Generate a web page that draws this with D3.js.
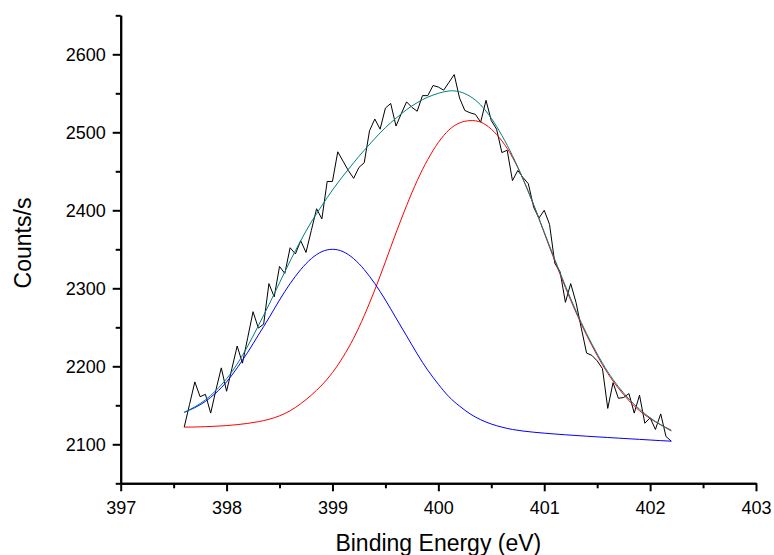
<!DOCTYPE html>
<html>
<head>
<meta charset="utf-8">
<script src="https://cdn.jsdelivr.net/npm/d3@7"></script>
<style>
  html, body { margin: 0; padding: 0; background: #fff; }
  svg { display: block; }
  text { font-family: "Liberation Sans", Arial, sans-serif; fill: #000; }
</style>
</head>
<body>
<svg id="chart" width="774" height="555"></svg>
<script>
// ---------- data ----------
const xTickLabels = [397, 398, 399, 400, 401, 402, 403];
const yTickLabels = [2100, 2200, 2300, 2400, 2500, 2600];
const xMinorTicks = [397.5, 398.5, 399.5, 400.5, 401.5, 402.5];
const yMinorTicks = [2050, 2150, 2250, 2350, 2450, 2550, 2650];

// raw spectrum (Binding energy, eV)
const rawEnergy = [
  397.60, 397.65, 397.70, 397.75, 397.80, 397.85, 397.90, 397.95, 398.00, 398.05,
  398.10, 398.15, 398.20, 398.25, 398.30, 398.35, 398.40, 398.45, 398.50, 398.55,
  398.60, 398.65, 398.70, 398.75, 398.80, 398.85, 398.90, 398.95, 399.00, 399.05,
  399.10, 399.15, 399.20, 399.25, 399.30, 399.35, 399.40, 399.45, 399.50, 399.55,
  399.60, 399.65, 399.70, 399.75, 399.80, 399.85, 399.90, 399.95, 400.00, 400.05,
  400.10, 400.15, 400.20, 400.25, 400.30, 400.35, 400.40, 400.45, 400.50, 400.55,
  400.60, 400.65, 400.70, 400.75, 400.80, 400.85, 400.90, 400.95, 401.00, 401.05,
  401.10, 401.15, 401.20, 401.25, 401.30, 401.35, 401.40, 401.45, 401.50, 401.55,
  401.60, 401.65, 401.70, 401.75, 401.80, 401.85, 401.90, 401.95, 402.00, 402.05,
  402.10, 402.15, 402.20
];
const rawCounts = [
  2122, 2151, 2180, 2161, 2164, 2140, 2170, 2198, 2168, 2197,
  2226, 2204, 2237, 2270, 2249, 2254, 2306, 2289, 2328, 2319,
  2352, 2344, 2361, 2346, 2374, 2402, 2389, 2437, 2437, 2475,
  2463, 2451, 2441, 2455, 2461, 2502, 2517, 2504, 2531, 2537,
  2508, 2524, 2539, 2532, 2527, 2547, 2547, 2560, 2558, 2554,
  2564, 2574, 2544, 2528, 2525, 2523, 2513, 2541, 2515, 2504,
  2474, 2477, 2438, 2451, 2442, 2434, 2404, 2390, 2400, 2382,
  2332, 2321, 2282, 2306, 2282, 2249, 2217, 2214, 2207, 2197,
  2146, 2179, 2159, 2160, 2165, 2140, 2163, 2127, 2134, 2119,
  2139, 2110, 2104
];

// fitted curves
const fitEnergy = [
  397.6, 397.7, 397.8, 397.9, 398.0, 398.1, 398.2, 398.3, 398.4, 398.5,
  398.6, 398.7, 398.8, 398.9, 399.0, 399.1, 399.2, 399.3, 399.4, 399.5,
  399.6, 399.7, 399.8, 399.9, 400.0, 400.1, 400.2, 400.3, 400.4, 400.5,
  400.6, 400.7, 400.8, 400.9, 401.0, 401.1, 401.2, 401.3, 401.4, 401.5,
  401.6, 401.7, 401.8, 401.9, 402.0, 402.1, 402.2
];
const peakLow = [   // blue component (~399.0 eV)
  2141, 2147, 2155, 2166, 2180, 2198, 2218, 2240, 2262, 2285,
  2306, 2324, 2338, 2347, 2350, 2347, 2338, 2324, 2306, 2285,
  2262, 2239, 2216, 2195, 2177, 2161, 2149, 2139, 2131.5, 2126,
  2122, 2119, 2117, 2115.5, 2114.3, 2113.2, 2112.2, 2111.3, 2110.4, 2109.5,
  2108.7, 2107.9, 2107.1, 2106.3, 2105.5, 2104.7, 2104
];
const peakHigh = [  // red component (~400.3 eV)
  2122, 2122.2, 2122.6, 2123.2, 2124, 2125.2, 2126.8, 2129, 2132, 2136.5,
  2143, 2152, 2163, 2176, 2192, 2212, 2236, 2265, 2298, 2334,
  2371, 2406, 2438, 2465, 2487, 2503, 2512, 2515, 2513, 2504,
  2489, 2468, 2440, 2407, 2371, 2335, 2301, 2269, 2240, 2214,
  2191, 2172, 2156, 2143, 2133, 2125, 2118
];
const envelope = [  // cumulative fit
  2141, 2148, 2157, 2169, 2184, 2203, 2226, 2252, 2279, 2307,
  2335, 2361, 2385, 2406, 2426, 2444, 2461, 2477, 2492, 2506,
  2518, 2529, 2538, 2545, 2550, 2553, 2552, 2546, 2535, 2518,
  2496, 2470, 2440, 2407, 2372, 2337, 2303, 2271, 2242, 2216,
  2193, 2174, 2158, 2145, 2134, 2125, 2117
];

// ---------- drawing ----------
const svg = d3.select("#chart");
const x = d3.scaleLinear().domain([397, 403]).range([120.7, 756]);
const y = d3.scaleLinear().domain([2050, 2650]).range([483.3, 15.3]);

const lineRaw = d3.line().x(d => x(d[0])).y(d => y(d[1]));
const lineFit = d3.line().x(d => x(d[0])).y(d => y(d[1])).curve(d3.curveNatural);

const plot = svg.append("g");
plot.append("path")
  .attr("d", lineRaw(d3.zip(rawEnergy, rawCounts)))
  .attr("fill", "none").attr("stroke", "#000").attr("stroke-width", 1);
plot.append("path")
  .attr("d", lineFit(d3.zip(fitEnergy, peakHigh)))
  .attr("fill", "none").attr("stroke", "#ff0000").attr("stroke-width", 1);
plot.append("path")
  .attr("d", lineFit(d3.zip(fitEnergy, peakLow)))
  .attr("fill", "none").attr("stroke", "#0000ff").attr("stroke-width", 1);
plot.append("path")
  .attr("d", lineFit(d3.zip(fitEnergy, envelope)))
  .attr("fill", "none").attr("stroke", "#008080").attr("stroke-width", 1);

// axes
const xAxisG = svg.append("g").attr("transform", `translate(0,${y(2050)})`);
xAxisG.append("g").call(d3.axisBottom(x).tickValues(xMinorTicks).tickSize(5).tickSizeOuter(0).tickFormat(""));
xAxisG.append("g").call(d3.axisBottom(x).tickValues(xTickLabels).tickSize(8).tickSizeOuter(0).tickPadding(10).tickFormat(d3.format("d")));

const yAxisG = svg.append("g").attr("transform", `translate(${x(397)},0)`);
yAxisG.append("g").call(d3.axisLeft(y).tickValues(yMinorTicks).tickSize(5).tickSizeOuter(0).tickFormat(""));
yAxisG.append("g").call(d3.axisLeft(y).tickValues(yTickLabels).tickSize(8).tickSizeOuter(0).tickPadding(7).tickFormat(d3.format("d")));

svg.selectAll(".domain").attr("stroke", "#000").attr("stroke-width", 2);
svg.selectAll(".tick line").attr("stroke", "#000").attr("stroke-width", 2);
svg.selectAll(".tick text")
  .attr("font-family", "'Liberation Sans', Arial, sans-serif")
  .attr("font-size", 18).attr("fill", "#000");

// titles
svg.append("text")
  .attr("x", x(400)).attr("y", 551)
  .attr("text-anchor", "middle")
  .attr("font-size", 23)
  .text("Binding Energy (eV)");
svg.append("text")
  .attr("transform", `translate(31,243) rotate(-90)`)
  .attr("text-anchor", "middle")
  .attr("font-size", 23)
  .text("Counts/s");
</script>
</body>
</html>
